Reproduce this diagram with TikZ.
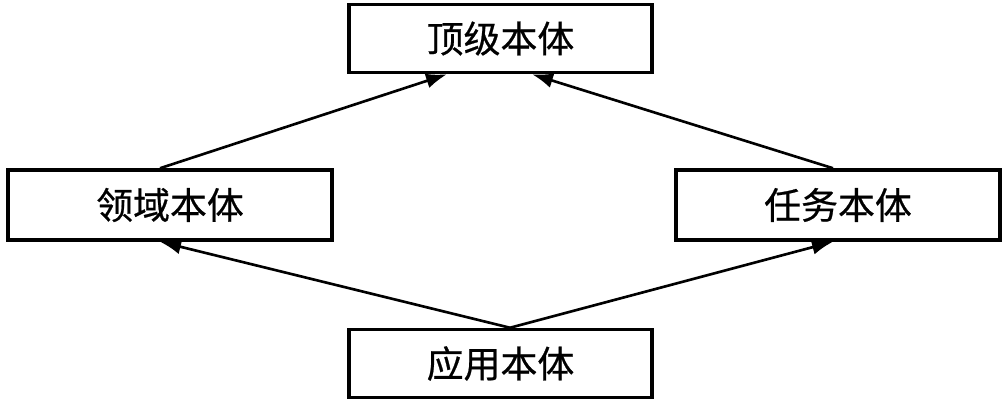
\documentclass[tikz,border=0pt]{standalone}
\usepackage{fontspec}
\usetikzlibrary{arrows.meta}
\newfontfamily\cjk[FakeBold=0.6]{Noto Sans CJK SC}
\tikzset{
  ontobox/.style={draw, line width=2pt, minimum height=1.36cm, inner sep=0pt, font=\cjk\fontsize{21}{25}\selectfont},
  link/.style={-{Latex[length=0.42cm, width=0.3cm]}, line width=1.5pt}
}
\begin{document}
\begin{tikzpicture}[x=0.02cm, y=-0.02cm]
    \useasboundingbox (0,0) rectangle (1006,404);
    % Các khối
    \node[ontobox, minimum width=6.06cm] (top) at (500.5,38.5) {顶级本体};
    \node[ontobox, minimum width=6.48cm, minimum height=1.4cm] (domain) at (170,205) {领域本体};
    \node[ontobox, minimum width=6.48cm, minimum height=1.4cm] (task) at (838,205) {任务本体};
    \node[ontobox, minimum width=6.06cm] (app) at (500.5,363.5) {应用本体};

    % Các mũi tên
    \draw[link] ([xshift=-0.2cm]domain.north) -- ([xshift=-1.07cm]top.south);
    \draw[link] ([xshift=-0.1cm]task.north) -- ([xshift=0.63cm]top.south);
    \draw[link] ([xshift=0.19cm]app.north) -- ([xshift=-0.2cm]domain.south);
    \draw[link] ([xshift=0.19cm]app.north) -- ([xshift=-0.1cm]task.south);
\end{tikzpicture}
\end{document}
